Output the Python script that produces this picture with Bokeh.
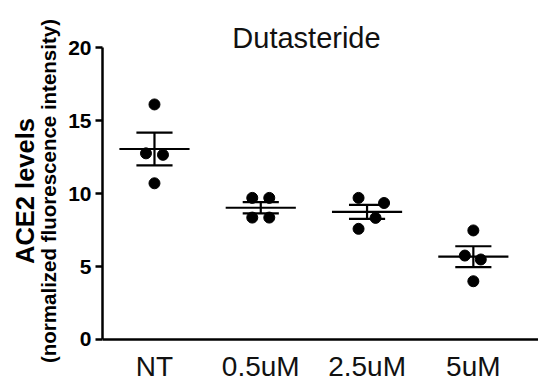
import math
from bokeh.plotting import figure
from bokeh.models import Range1d, FixedTicker, Span, LinearAxis
from bokeh.core.properties import value
from bokeh.embed import file_html
from bokeh.resources import INLINE

# ---- data ----
categories = ["NT", "0.5uM", "2.5uM", "5uM"]
nt_vals = [16.1, 12.75, 12.65, 10.7]
half_vals = [9.7, 9.7, 8.35, 8.35]
two5_vals = [9.7, 9.35, 8.33, 7.58]
five_vals = [7.47, 5.75, 5.48, 3.99]
# horizontal jitter of each point inside its category (category widths)
nt_jit = [0.0, -0.08, 0.08, 0.0]
half_jit = [-0.08, 0.08, -0.08, 0.08]
two5_jit = [-0.08, 0.16, 0.08, -0.08]
five_jit = [0.0, -0.08, 0.07, 0.0]
y_ticks = [0, 5, 10, 15, 20]
title_text = "Dutasteride"
ylabel_main = "ACE2 levels"
ylabel_sub = "(normalized fluorescence intensity)"

groups = [nt_vals, half_vals, two5_vals, five_vals]
jits = [nt_jit, half_jit, two5_jit, five_jit]
pos = [1, 2, 3, 4]

FONT = "Liberation Sans"

p = figure(width=538, height=381, output_backend="svg", toolbar_location=None,
           x_range=Range1d(0.511, 4.613), y_range=Range1d(-2.877, 23.22),
           x_axis_location=None, min_border_left=102, min_border_right=0,
           min_border_top=0, min_border_bottom=0, background_fill_color="white",
           border_fill_color="white")
p.outline_line_color = None
p.grid.visible = False

ya = p.yaxis[0]
ya.bounds = (0, 20)
ya.ticker = FixedTicker(ticks=y_ticks)
ya.minor_tick_line_color = None
ya.major_tick_in = 0
ya.major_tick_out = 7
ya.major_tick_line_width = 2.5
ya.axis_line_width = 2.5
ya.major_label_standoff = 4
ya.major_label_text_font = FONT
ya.major_label_text_font_style = "bold"
ya.major_label_text_font_size = "21px"
ya.major_label_text_color = "black"


def label_axis(text, size, standoff, bounds):
    ax = LinearAxis(ticker=FixedTicker(ticks=[]), bounds=bounds)
    ax.axis_line_color = None
    ax.major_tick_line_color = None
    ax.minor_tick_line_color = None
    ax.major_tick_out = 0
    ax.major_tick_in = 0
    ax.minor_tick_out = 0
    ax.major_label_standoff = 0
    ax.major_label_text_font_size = "0px"
    ax.axis_label = text
    ax.axis_label_standoff = standoff
    ax.axis_label_text_font = FONT
    ax.axis_label_text_font_style = "bold"
    ax.axis_label_text_font_size = size
    ax.axis_label_text_color = "black"
    return ax


p.add_layout(label_axis(ylabel_sub, "20.5px", 6, (0.82, 20)), "left")
p.add_layout(label_axis(ylabel_main, "25.5px", -5, (0.82, 20)), "left")

# x axis line at y = 0
p.add_layout(Span(location=0, dimension="width", line_color="black", line_width=2.5))

# points
xs, ys = [], []
for x0, vals, jit in zip(pos, groups, jits):
    for v, j in zip(vals, jit):
        xs.append(x0 + j)
        ys.append(v)
p.scatter(xs, ys, size=11, color="black")

# mean and SEM
means, sems = [], []
for vals in groups:
    n = len(vals)
    m = sum(vals) / n
    sd = math.sqrt(sum((v - m) ** 2 for v in vals) / (n - 1))
    means.append(m)
    sems.append(sd / math.sqrt(n))
tops = [m + s for m, s in zip(means, sems)]
bots = [m - s for m, s in zip(means, sems)]

mw, cw = 0.33, 0.17
p.segment([x - mw for x in pos], means, [x + mw for x in pos], means, line_width=2.2, color="black")
p.segment(pos, bots, pos, tops, line_width=2.2, color="black")
p.segment([x - cw for x in pos], tops, [x + cw for x in pos], tops, line_width=2.2, color="black")
p.segment([x - cw for x in pos], bots, [x + cw for x in pos], bots, line_width=2.2, color="black")

# category labels
p.text(x=pos, y=[-1.85] * 4, text=categories, text_align="center", text_baseline="alphabetic",
       text_font=value(FONT), text_font_size="28px", text_color="#111111")

# title
p.text(x=[2.43], y=[20.65], text=[title_text], text_align="center", text_baseline="alphabetic",
       text_font=value(FONT), text_font_size="29px", text_color="#111111")

open("out.html", "w").write(file_html(p, INLINE))
